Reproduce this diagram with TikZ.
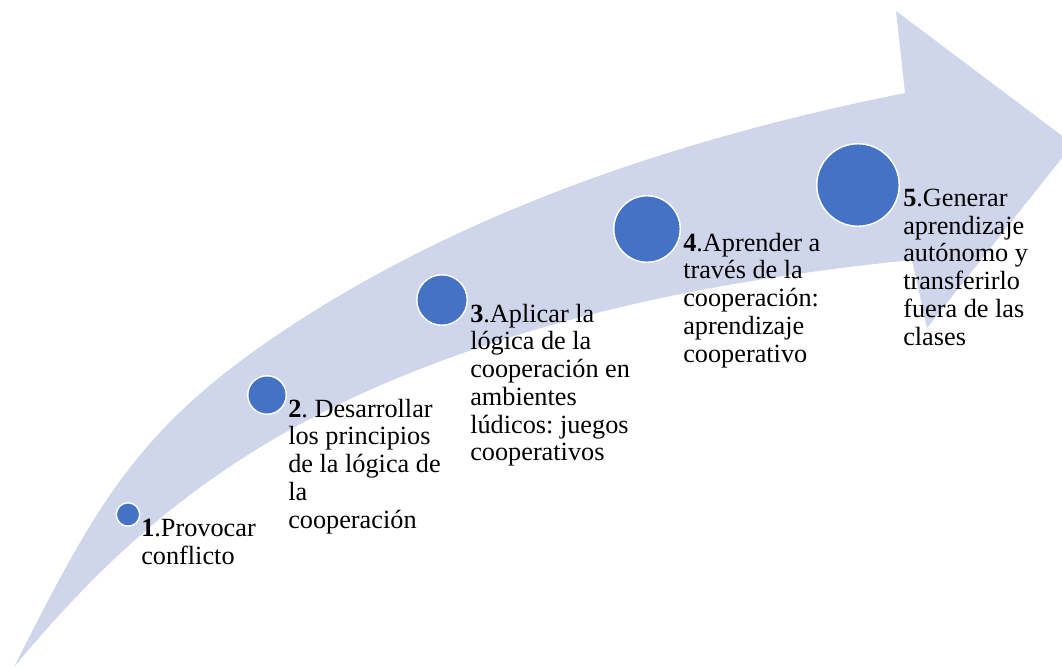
\documentclass[tikz,border=0pt]{standalone}
\usepackage{fontspec}
\setmainfont{Liberation Serif}
\definecolor{arrowlav}{RGB}{207,213,234}
\definecolor{stepblue}{RGB}{68,114,196}
\frenchspacing

\begin{document}
\begin{tikzpicture}[%
    x=0.75pt, y=-0.75pt,%
    dot/.style={circle, fill=stepblue, draw=white, line width=1.1pt, inner sep=0pt},%
    steptext/.style={anchor=north west, align=left, inner sep=0pt,%
      font=\fontsize{19.7}{20.8}\selectfont}%
  ]
  % Cadre
  \clip (0,0) rectangle (1062,668);

  %
  % Flèche
  %
  \fill[arrowlav] (14,667)
    .. controls (99.5,498) and (140.4,422.6) .. (300,320)
    .. controls (480.6,203.9) and (694.3,135.1) .. (905,93)
    -- (896,11) -- (1073,144) -- (927,328) -- (912,260)
    .. controls (737.9,277.5) and (561.9,310.5) .. (400,377)
    .. controls (224.3,449.2) and (116.4,543.8) .. (14,667)
    -- cycle;

  %
  % Étapes
  %
  \node[dot, minimum size=17.6pt] (c1) at (128,514.5) {};
  \node[dot, minimum size=28.9pt] (c2) at (267,395) {};
  \node[dot, minimum size=37.9pt] (c3) at (442,300) {};
  \node[dot, minimum size=49.9pt] (c4) at (647,229) {};
  \node[dot, minimum size=61.9pt] (c5) at (858,185) {};

  % Textes
  \node[steptext] (t1) at (141,519) {\textbf{1}.Provocar\\conflicto};
  \node[steptext] (t2) at (288,398.7) {\textbf{2}. Desarrollar\\los principios\\de la lógica de\\la\\cooperación};
  \node[steptext] (t3) at (470,303.7) {\textbf{3}.Aplicar la\\lógica de la\\cooperación en\\ambientes\\lúdicos: juegos\\cooperativos};
  \node[steptext] (t4) at (683,232.7) {\textbf{4}.Aprender a\\través de la\\cooperación:\\aprendizaje\\cooperativo};
  \node[steptext] (t5) at (903,188.7) {\textbf{5}.Generar\\aprendizaje\\autónomo y\\transferirlo\\fuera de las\\clases};

\end{tikzpicture}
\end{document}
